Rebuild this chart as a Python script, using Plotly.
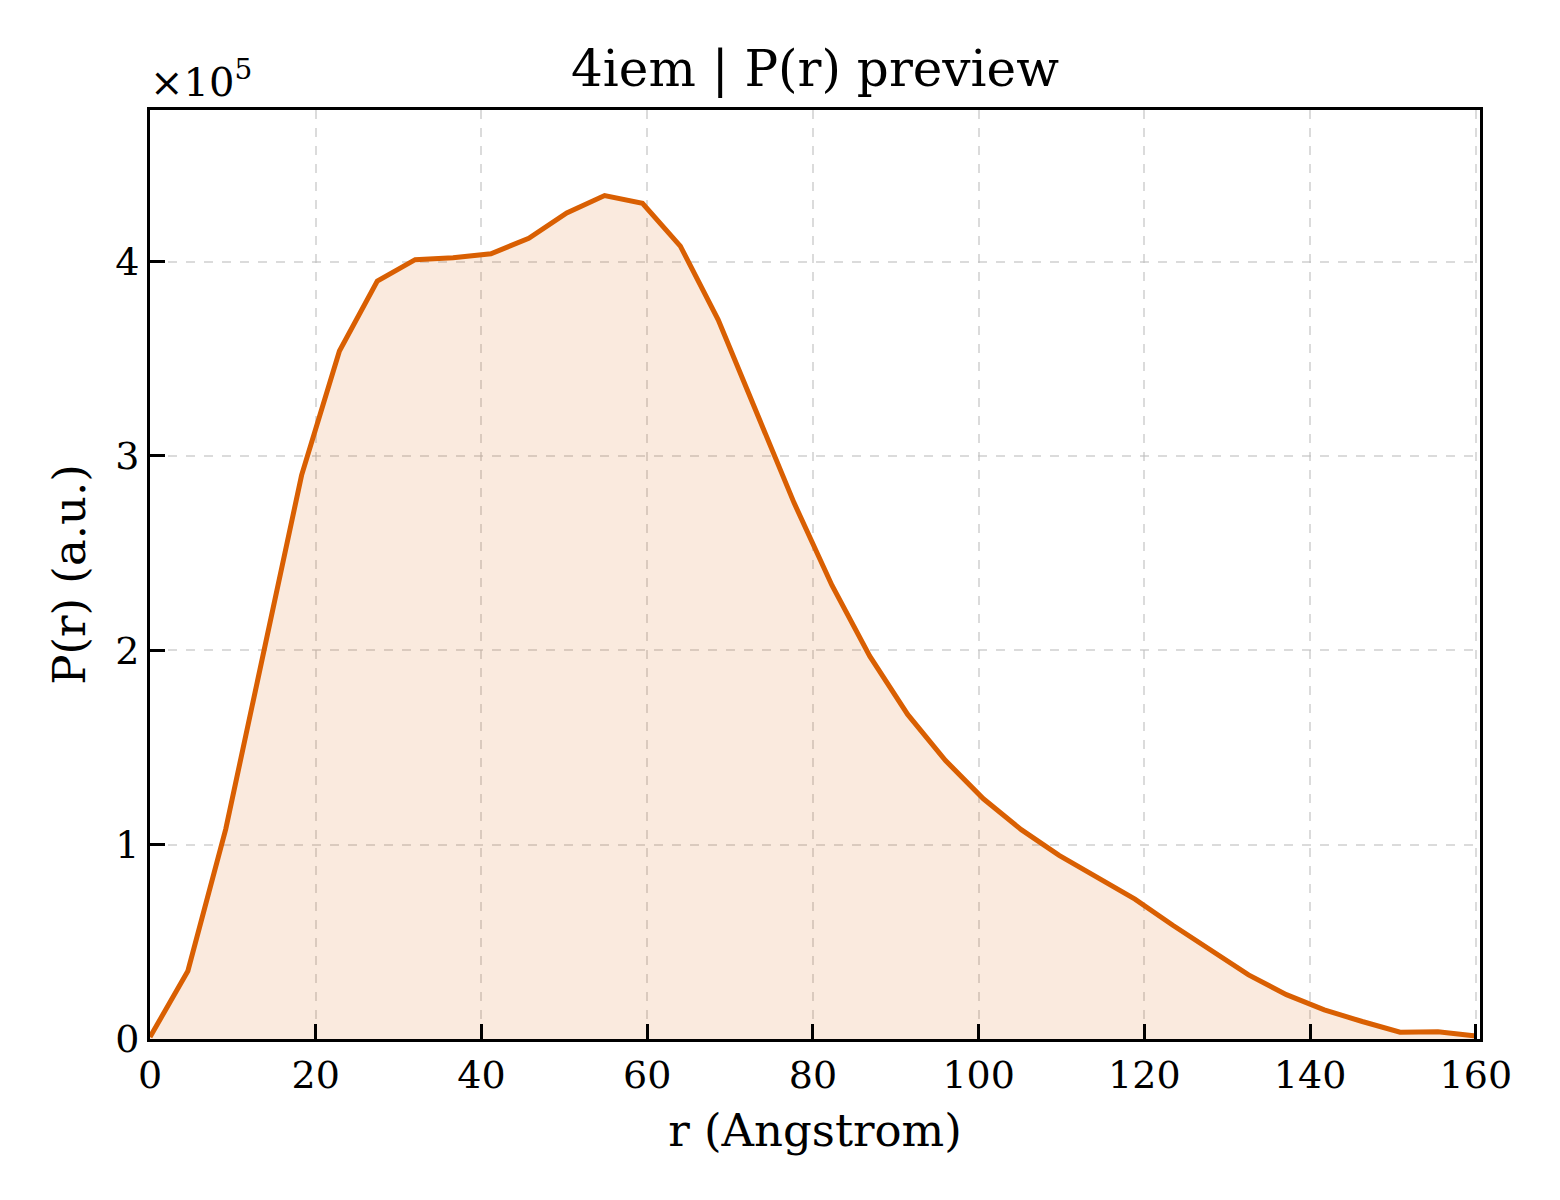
import plotly.graph_objects as go

# P(r) preview for 4iem
r_angstrom = [0.0, 4.57, 9.14, 13.71, 18.29, 22.86, 27.43, 32.0, 36.57, 41.14,
              45.71, 50.29, 54.86, 59.43, 64.0, 68.57, 73.14, 77.71, 82.29, 86.86,
              91.43, 96.0, 100.57, 105.14, 109.71, 114.29, 118.86, 123.43, 128.0,
              132.57, 137.14, 141.71, 146.29, 150.86, 155.43, 160.0]
p_r = [1000, 35000, 108000, 199000, 290000, 354000, 390000, 401000, 402000, 404000,
       412000, 425000, 434000, 430000, 408000, 370000, 323000, 276000, 233500, 197000,
       167000, 143300, 123600, 107700, 94500, 83300, 72000, 58500, 45500,
       33000, 22800, 15000, 9000, 3500, 3700, 1500]

y_ticks = [0, 100000, 200000, 300000, 400000]
y_tick_labels = ["0", "1", "2", "3", "4"]
x_ticks = [0, 20, 40, 60, 80, 100, 120, 140, 160]

font = "DejaVu Serif"
line_color = "#d95f02"

fig = go.Figure()
fig.add_trace(go.Scatter(
    x=r_angstrom, y=p_r, mode="lines",
    line=dict(color=line_color, width=5),
    fill="tozeroy", fillcolor="rgba(217,95,2,0.13)",
    showlegend=False,
))

axis_common = dict(
    showline=True, linecolor="black", linewidth=3, mirror=True,
    ticks="inside", ticklen=15, tickwidth=2.5, tickcolor="black",
    showgrid=True, gridcolor="rgba(190,190,190,0.55)", gridwidth=1.5,
    griddash="dash", zeroline=False,
    tickfont=dict(family=font, size=38, color="black"),
)

fig.update_xaxes(
    range=[0, 160.5], tickvals=x_ticks,
    title=dict(text="r (Angstrom)", font=dict(family=font, size=45, color="black"), standoff=19),
    **axis_common,
)
fig.update_yaxes(
    range=[0, 478000], tickvals=y_ticks, ticktext=y_tick_labels,
    title=dict(text="P(r) (a.u.)", font=dict(family=font, size=45, color="black"), standoff=16),
    **axis_common,
)

fig.update_layout(
    width=1560, height=1200, autosize=False,
    margin=dict(l=142, r=88, t=102, b=169),
    paper_bgcolor="white", plot_bgcolor="white",
    font=dict(family=font, color="black"),
    title=dict(text="4iem | P(r) preview", x=0.5, xref="paper", xanchor="center",
               y=1 - 60 / 1200, yref="container", yanchor="middle",
               font=dict(family=font, size=50, color="black")),
)
fig.add_annotation(
    text="×10<sup>5</sup>", xref="paper", yref="paper", x=0, y=1,
    xanchor="left", yanchor="bottom", xshift=-2, yshift=3, showarrow=False,
    font=dict(family=font, size=40, color="black"),
)

fig.write_html("out.html")
